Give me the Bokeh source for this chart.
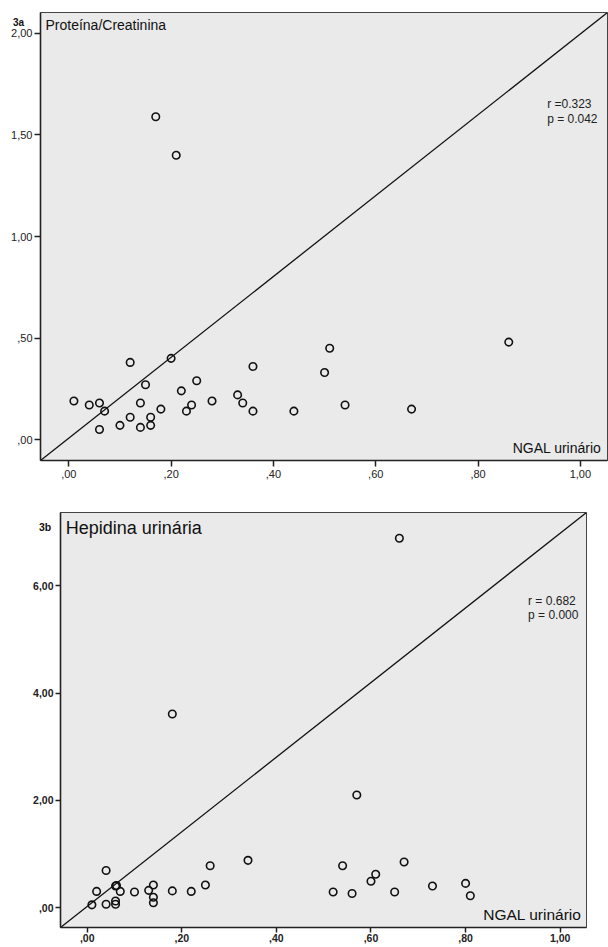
from bokeh.plotting import figure
from bokeh.models import Range1d, Label, FixedTicker, Div
from bokeh.embed import file_html
from bokeh.resources import INLINE

# ---- data: panel 3a (NGAL urinário vs Proteína/Creatinina)
ngal_a = [0.01, 0.04, 0.06, 0.07, 0.06, 0.10, 0.12, 0.12, 0.14, 0.14, 0.15, 0.16, 0.16,
          0.18, 0.20, 0.22, 0.23, 0.24, 0.25, 0.28, 0.33, 0.34, 0.36, 0.36, 0.44,
          0.51, 0.50, 0.54, 0.67, 0.86, 0.17, 0.21]
prot_a = [0.19, 0.17, 0.18, 0.14, 0.05, 0.07, 0.38, 0.11, 0.18, 0.06, 0.27, 0.11, 0.07,
          0.15, 0.40, 0.24, 0.14, 0.17, 0.29, 0.19, 0.22, 0.18, 0.36, 0.14, 0.14,
          0.45, 0.33, 0.17, 0.15, 0.48, 1.59, 1.40]

# ---- data: panel 3b (NGAL urinário vs Hepidina urinária)
ngal_b = [0.01, 0.02, 0.04, 0.04, 0.06, 0.062, 0.06, 0.06, 0.07, 0.10, 0.13, 0.14, 0.14,
          0.14, 0.18, 0.18, 0.22, 0.25, 0.26, 0.34, 0.57, 0.54, 0.52, 0.56, 0.60,
          0.61, 0.65, 0.67, 0.73, 0.80, 0.81, 0.66]
hep_b = [0.05, 0.30, 0.69, 0.06, 0.40, 0.41, 0.12, 0.06, 0.30, 0.29, 0.32, 0.42, 0.19,
         0.09, 3.61, 0.31, 0.30, 0.42, 0.78, 0.88, 2.10, 0.78, 0.29, 0.26, 0.49,
         0.62, 0.29, 0.85, 0.40, 0.45, 0.22, 6.89]

x_ticks = [0.0, 0.2, 0.4, 0.6, 0.8, 1.0]
x_tick_labels = [",00", ",20", ",40", ",60", ",80", "1,00"]
ya_ticks = [0.0, 0.5, 1.0, 1.5, 2.0]
ya_tick_labels = [",00", ",50", "1,00", "1,50", "2,00"]
yb_ticks = [0.0, 2.0, 4.0, 6.0]
yb_tick_labels = [",00", "2,00", "4,00", "6,00"]

FONT = "Liberation Sans"
BG = "#EAEAEA"


def style(p, xt, xl, yt, yl, bold):
    p.background_fill_color = BG
    p.border_fill_color = "white"
    p.outline_line_color = "#444444"
    p.outline_line_width = 1
    p.grid.visible = False
    p.xaxis.ticker = FixedTicker(ticks=xt)
    p.yaxis.ticker = FixedTicker(ticks=yt)
    p.xaxis.major_label_overrides = {t: l for t, l in zip(xt, xl)}
    p.yaxis.major_label_overrides = {t: l for t, l in zip(yt, yl)}
    for ax in (p.xaxis, p.yaxis):
        ax.axis_line_color = "#222222"
        ax.axis_line_width = 1.6
        ax.major_tick_line_color = "#222222"
        ax.major_tick_line_width = 1.5
        ax.major_tick_out = 6
        ax.major_tick_in = 0
        ax.minor_tick_line_color = None
        ax.major_label_text_font = FONT
        ax.major_label_text_font_size = "11px"
        ax.major_label_text_color = "#222222"
        ax.major_label_text_font_style = "bold" if bold else "normal"
    p.xaxis.major_label_standoff = 3
    p.yaxis.major_label_standoff = 2


# ---------------- panel 3a
pa = figure(width=608, height=490, output_backend="svg", toolbar_location=None,
            x_range=Range1d(-0.0553, 1.053), y_range=Range1d(-0.103, 2.103),
            min_border_left=40, min_border_right=1, min_border_top=12, min_border_bottom=30)
style(pa, x_ticks, x_tick_labels, ya_ticks, ya_tick_labels, False)
pa.line([pa.x_range.start, pa.x_range.end], [pa.y_range.start, pa.y_range.end],
        line_color="#111111", line_width=1.3)
pa.scatter(ngal_a, prot_a, marker="circle", size=7.5, fill_color=None,
           line_color="#111111", line_width=1.6)
pa.add_layout(Label(x=-0.0456, y=2.039, text="Proteína/Creatinina", text_font=FONT,
                    text_font_size="14px", text_baseline="middle", text_color="#111111"))
pa.add_layout(Label(x=0.935, y=1.650, text="r =0.323", text_font=FONT, text_font_size="12px",
                    text_baseline="middle", text_color="#222222"))
pa.add_layout(Label(x=0.935, y=1.581, text="p = 0.042", text_font=FONT, text_font_size="12px",
                    text_baseline="middle", text_color="#222222"))
pa.add_layout(Label(x=1.041, y=-0.039, text="NGAL urinário", text_font=FONT,
                    text_font_size="14px", text_align="right", text_baseline="middle",
                    text_color="#111111"))

# ---------------- panel 3b
pb = figure(width=608, height=457, output_backend="svg", toolbar_location=None,
            x_range=Range1d(-0.0564, 1.0556), y_range=Range1d(-0.373, 7.369),
            min_border_left=60, min_border_right=22, min_border_top=22, min_border_bottom=20)
style(pb, x_ticks, x_tick_labels, yb_ticks, yb_tick_labels, True)
pb.xaxis.major_tick_out = 5
pb.yaxis.major_tick_out = 5
pb.xaxis.major_label_standoff = 1
pb.xaxis.major_label_text_font_size = "10.5px"
pb.yaxis.major_label_text_font_size = "10.5px"
pb.line([pb.x_range.start, pb.x_range.end], [pb.y_range.start, pb.y_range.end],
        line_color="#111111", line_width=1.3)
pb.scatter(ngal_b, hep_b, marker="circle", size=7.5, fill_color=None,
           line_color="#111111", line_width=1.6)
pb.add_layout(Label(x=-0.0452, y=7.084, text="Hepidina urinária", text_font=FONT,
                    text_font_size="18px", text_baseline="middle", text_color="#111111"))
pb.add_layout(Label(x=0.932, y=5.722, text="r = 0.682", text_font=FONT, text_font_size="12px",
                    text_baseline="middle", text_color="#222222"))
pb.add_layout(Label(x=0.932, y=5.46, text="p = 0.000", text_font=FONT, text_font_size="12px",
                    text_baseline="middle", text_color="#222222"))
pb.add_layout(Label(x=1.045, y=-0.127, text="NGAL urinário", text_font=FONT,
                    text_font_size="15.5px", text_align="right", text_baseline="middle",
                    text_color="#111111"))

# panel tags placed beside the frames
tag_a = Div(text="3a", styles={"position": "absolute", "left": "8px", "top": "11px",
                               "font-family": FONT, "font-size": "10px",
                               "font-weight": "bold", "color": "#111"})
tag_b = Div(text="3b", styles={"position": "absolute", "left": "34px", "top": "515px",
                               "font-family": FONT, "font-size": "10.5px",
                               "font-weight": "bold", "color": "#111"})

open("out.html", "w").write(file_html([pa, pb, tag_a, tag_b], INLINE))
